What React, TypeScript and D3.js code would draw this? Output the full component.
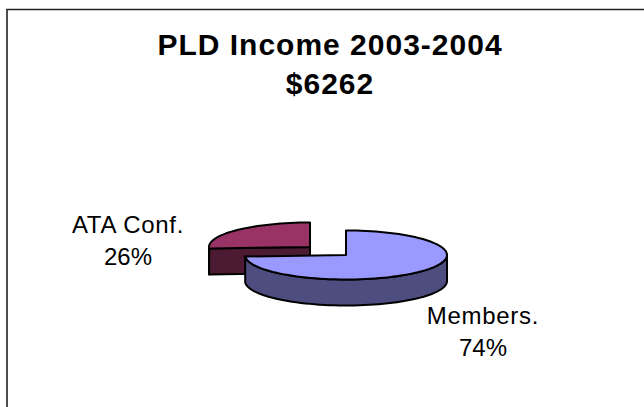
import React from "react";
import * as d3 from "d3";

const categories = ["Members.", "ATA Conf."];
const shares = [74, 26];
const percentLabels = ["74%", "26%"];
const titleLines = ["PLD Income 2003-2004", "$6262"];

const topColors = ["#9999ff", "#993366"];
const sideColors = ["#4d4d80", "#4d1a33"];

const WIDTH = 644;
const HEIGHT = 407;
const DEPTH = 26;
const RX = 101;
const RY = 24.5;

// Each slice is pulled away from the others, so it has its own centre.
const centres = [
  { x: 346, y: 255 },
  { x: 310, y: 247 },
];
const labelPositions = [
  { x: 483, y: 324 },
  { x: 128, y: 233 },
];

const pieLayout = d3.pie<number>().sort(null).startAngle(0).endAngle(2 * Math.PI);

// Pie angle (0 at 12 o'clock, clockwise) projected on to the tilted ellipse.
const project = (a: number, c: { x: number; y: number }, dy = 0): [number, number] => [
  c.x + RX * Math.sin(a),
  c.y + dy - RY * Math.cos(a),
];

const line = d3.line();

function samples(a0: number, a1: number): number[] {
  const n = Math.max(2, Math.ceil(Math.abs(a1 - a0) / 0.05));
  return d3.range(n + 1).map((i) => a0 + ((a1 - a0) * i) / n);
}

function topPath(a0: number, a1: number, c: { x: number; y: number }): string {
  const rim = samples(a0, a1).map((a) => project(a, c));
  return line([[c.x, c.y], ...rim, [c.x, c.y]]) + "Z";
}

// Outer wall: only the front half of the rim (a between 90 and 270 degrees) faces the viewer.
function sidePath(a0: number, a1: number, c: { x: number; y: number }): string {
  const from = Math.max(a0, Math.PI / 2);
  const to = Math.min(a1, (3 * Math.PI) / 2);
  if (to <= from) return "";
  const arc = samples(from, to);
  const upper = arc.map((a) => project(a, c));
  const lower = arc.slice().reverse().map((a) => project(a, c, DEPTH));
  return line([...upper, ...lower]) + "Z";
}

// Cut face running from the centre to the rim at the given angle.
function cutPath(a: number, c: { x: number; y: number }): string {
  const rim = project(a, c);
  return (
    line([
      [c.x, c.y],
      rim,
      [rim[0], rim[1] + DEPTH],
      [c.x, c.y + DEPTH],
    ]) + "Z"
  );
}

export default function App() {
  const arcs = pieLayout(shares);
  const font = '"Liberation Sans", Arial, sans-serif';
  // Drawn back to front: the ATA Conf. slice sits behind Members.
  const order = [1, 0];
  return (
    <svg
      width={WIDTH}
      height={HEIGHT}
      viewBox={`0 0 ${WIDTH} ${HEIGHT}`}
      style={{ position: "absolute", left: 0, top: 0, background: "#fff" }}
    >
      <path d={`M7 ${HEIGHT}V9.5H${WIDTH}`} fill="none" stroke="#222" strokeWidth={1.6} />
      {titleLines.map((t, i) => (
        <text
          key={t}
          x={330}
          y={55 + i * 39}
          textAnchor="middle"
          fontFamily={font}
          fontWeight="bold"
          fontSize={30}
          letterSpacing={1}
          fill="#000"
        >
          {t}
        </text>
      ))}
      {order.map((i) => {
        const a = arcs[i];
        const c = centres[i];
        return (
          <g key={categories[i]} stroke="#000" strokeWidth={2} strokeLinejoin="round">
            <path d={sidePath(a.startAngle, a.endAngle, c)} fill={sideColors[i]} />
            {i === 1 && <path d={cutPath(a.startAngle, c)} fill={sideColors[i]} />}
            <path d={topPath(a.startAngle, a.endAngle, c)} fill={topColors[i]} />
          </g>
        );
      })}
      {categories.map((name, i) => (
        <text key={name} textAnchor="middle" fontFamily={font} fontSize={24} fill="#000">
          <tspan x={labelPositions[i].x} y={labelPositions[i].y} letterSpacing={0.7}>
            {name}
          </tspan>
          <tspan x={labelPositions[i].x} y={labelPositions[i].y + 32}>
            {percentLabels[i]}
          </tspan>
        </text>
      ))}
    </svg>
  );
}
